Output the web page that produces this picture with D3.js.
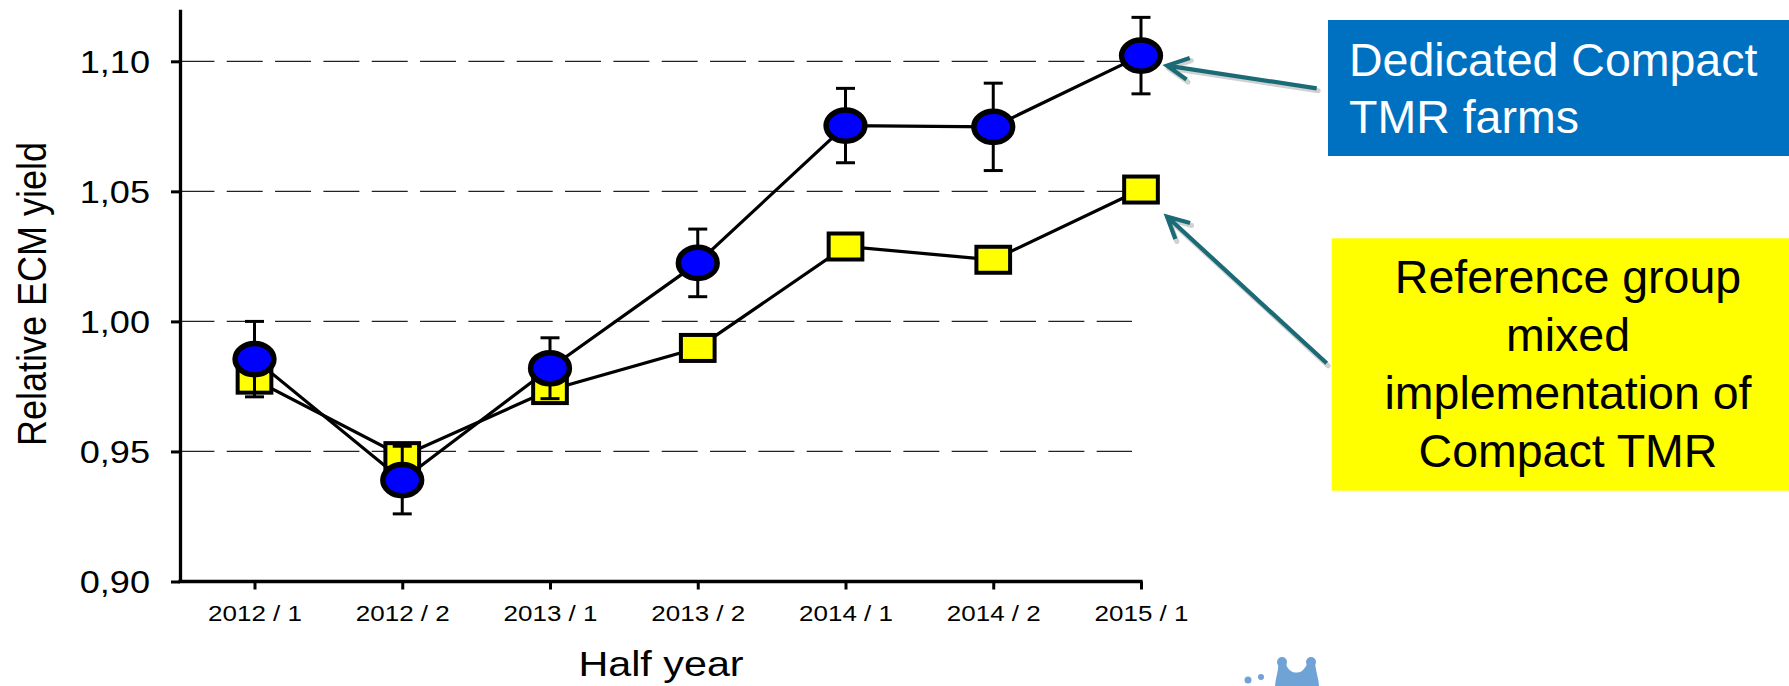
<!DOCTYPE html>
<html><head><meta charset="utf-8">
<script src="https://cdn.jsdelivr.net/npm/d3@7"></script>
<style>
html,body{margin:0;padding:0;background:#fff;}
svg{display:block;}
text{font-family:"Liberation Sans",Arial,Helvetica,sans-serif;}
</style>
</head><body>
<svg id="c" width="1789" height="686"></svg>
<script>
// ---- data ----
const categories = ["2012 / 1","2012 / 2","2013 / 1","2013 / 2","2014 / 1","2014 / 2","2015 / 1"];
const dedicatedValues = [0.9855, 0.939, 0.982, 1.0225, 1.0753, 1.0748, 1.1022];
const dedicatedErrors = [0.0145, 0.013, 0.0117, 0.013, 0.0143, 0.0168, 0.0147];
const referenceValues = [0.9776, 0.9482, 0.9736, 0.9898, 1.0288, 1.0237, 1.0507];
const yTickValues = [0.90, 0.95, 1.00, 1.05, 1.10];
const yAxisTitle = "Relative ECM yield";
const xAxisTitle = "Half year";
const dedicatedLabel = ["Dedicated Compact", "TMR farms"];
const referenceLabel = ["Reference group", "mixed", "implementation of", "Compact TMR"];

// ---- layout ----
const svg = d3.select("#c");
const axisX = 180, axisY = 581.5;
const x = d3.scalePoint().domain(categories).range([254.5, 1141]);
const y = d3.scaleLinear().domain([0.90, 1.12]).range([axisY, 9.3]);
const fmt = d => d.toFixed(2).replace(".", ",");

// gridlines
svg.append("g").selectAll("line")
  .data(yTickValues.filter(v => v > 0.9))
  .join("line")
  .attr("x1", 178.4).attr("x2", 1132)
  .attr("y1", d => y(d)).attr("y2", d => y(d))
  .attr("stroke", "#222").attr("stroke-width", 1.3)
  .attr("stroke-dasharray", "36,12.33");

// y axis
const gy = svg.append("g").attr("transform", `translate(${axisX},0)`)
  .call(d3.axisLeft(y).tickValues(yTickValues).tickSize(9).tickSizeOuter(0).tickFormat(fmt));
gy.select(".domain").attr("stroke", "#000").attr("stroke-width", 3.3);
gy.selectAll(".tick line").attr("stroke", "#000").attr("stroke-width", 3);
gy.selectAll(".tick text")
  .attr("font-size", 32).attr("fill", "#000")
  .attr("x", -30 / 1.13).attr("dy", "0.35em")
  .attr("transform", "scale(1.13,1)")
  .style("font-family", '"Liberation Sans",Arial,sans-serif');

// x axis
const gx = svg.append("g").attr("transform", `translate(0,${axisY})`)
  .call(d3.axisBottom(x).tickSize(8).tickSizeOuter(0));
gx.select(".domain").attr("d", `M${axisX - 1.65},0H1142.6`).attr("stroke", "#000").attr("stroke-width", 3.3);
gx.selectAll(".tick line").attr("stroke", "#000").attr("stroke-width", 3);
gx.selectAll(".tick text")
  .attr("font-size", 22).attr("fill", "#000")
  .attr("y", 39.5).attr("dy", 0)
  .attr("transform", "scale(1.18,1)")
  .style("font-family", '"Liberation Sans",Arial,sans-serif');

// axis titles
svg.append("text")
  .attr("transform", "translate(46,294) scale(1.15,1) rotate(-90)")
  .attr("text-anchor", "middle").attr("font-size", 36).attr("fill", "#000")
  .text(yAxisTitle);
svg.append("text")
  .attr("transform", "translate(661,676) scale(1.18,1)")
  .attr("text-anchor", "middle").attr("font-size", 35).attr("fill", "#000")
  .text(xAxisTitle);

// series
const line = d3.line().x((d, i) => x(categories[i])).y(d => y(d));

// reference series (yellow squares)
svg.append("path").datum(referenceValues).attr("d", line)
  .attr("fill", "none").attr("stroke", "#000").attr("stroke-width", 3.2);
const sqW = 33.7, sqH = 26;
svg.append("g").selectAll("rect").data(referenceValues).join("rect")
  .attr("x", (d, i) => x(categories[i]) - sqW / 2)
  .attr("y", d => y(d) - sqH / 2)
  .attr("width", sqW).attr("height", sqH)
  .attr("fill", "#FFFF00").attr("stroke", "#000").attr("stroke-width", 4);

// dedicated series (blue circles)
svg.append("path").datum(dedicatedValues).attr("d", line)
  .attr("fill", "none").attr("stroke", "#000").attr("stroke-width", 3.2);
const eb = svg.append("g").attr("stroke", "#000").attr("stroke-width", 3);
dedicatedValues.forEach((v, i) => {
  const cx = x(categories[i]);
  const y1 = y(v + dedicatedErrors[i]), y0 = y(v - dedicatedErrors[i]);
  eb.append("line").attr("x1", cx).attr("x2", cx).attr("y1", y1).attr("y2", y0);
  eb.append("line").attr("x1", cx - 9.5).attr("x2", cx + 9.5).attr("y1", y1).attr("y2", y1);
  eb.append("line").attr("x1", cx - 9.5).attr("x2", cx + 9.5).attr("y1", y0).attr("y2", y0);
});
svg.append("g").selectAll("ellipse").data(dedicatedValues).join("ellipse")
  .attr("cx", (d, i) => x(categories[i])).attr("cy", d => y(d))
  .attr("rx", 19.4).attr("ry", 15.6)
  .attr("fill", "#0000FF").attr("stroke", "#000").attr("stroke-width", 5.5);

// ---- annotation boxes ----
svg.append("rect").attr("x", 1328).attr("y", 20).attr("width", 470).attr("height", 136).attr("fill", "#0070C0");
svg.append("g").selectAll("text").data(dedicatedLabel).join("text")
  .attr("x", 1349).attr("y", (d, i) => 76 + i * 57.3)
  .attr("font-size", 46.5).attr("fill", "#fff").text(d => d);

svg.append("rect").attr("x", 1331.7).attr("y", 238.3).attr("width", 470).attr("height", 252.4).attr("fill", "#FFFF00");
svg.append("g").selectAll("text").data(referenceLabel).join("text")
  .attr("x", 1568).attr("y", (d, i) => 293.3 + i * 57.8)
  .attr("text-anchor", "middle")
  .attr("font-size", 46.5).attr("fill", "#000").text(d => d);

// ---- arrows ----
function arrow(tail, tip) {
  const g = svg.append("g");
  const ang = Math.atan2(tail[1] - tip[1], tail[0] - tip[0]);
  const len = 24, spread = 27 * Math.PI / 180;
  const a1 = [tip[0] + len * Math.cos(ang - spread), tip[1] + len * Math.sin(ang - spread)];
  const a2 = [tip[0] + len * Math.cos(ang + spread), tip[1] + len * Math.sin(ang + spread)];
  const d = `M${tail[0]},${tail[1]}L${tip[0]},${tip[1]}M${a1[0]},${a1[1]}L${tip[0]},${tip[1]}L${a2[0]},${a2[1]}`;
  g.append("path").attr("d", d).attr("transform", "translate(1.5,2.5)")
    .attr("fill", "none").attr("stroke", "#000").attr("stroke-opacity", 0.18)
    .attr("stroke-width", 5).attr("stroke-linecap", "round").attr("stroke-linejoin", "round");
  g.append("path").attr("d", d)
    .attr("fill", "none").attr("stroke", "#1b6b76").attr("stroke-width", 4.2)
    .attr("stroke-linecap", "butt").attr("stroke-linejoin", "miter");
}
const lastCat = categories[categories.length - 1];
arrow([1316.7, 88.3], [x(lastCat) + 26, y(dedicatedValues[dedicatedValues.length - 1]) + 10]);
arrow([1326.7, 363.3], [x(lastCat) + 26, y(referenceValues[referenceValues.length - 1]) + 27]);

// ---- partial logo splash at bottom ----
const logo = svg.append("g").attr("fill", "#6fa3d6");
logo.append("circle").attr("cx", 1282).attr("cy", 662).attr("r", 5);
logo.append("circle").attr("cx", 1311).attr("cy", 662).attr("r", 5);
logo.append("path").attr("d",
  "M1275,686 C1276,676 1279,669 1278,663 L1286,663 C1287,671 1295,675 1302,671 C1305,668 1307,665 1307,663 L1315,663 C1316,672 1319,680 1319,686 Z");
logo.append("circle").attr("cx", 1248).attr("cy", 680).attr("r", 3.5);
logo.append("circle").attr("cx", 1261).attr("cy", 677).attr("r", 3);
</script>
</body></html>
